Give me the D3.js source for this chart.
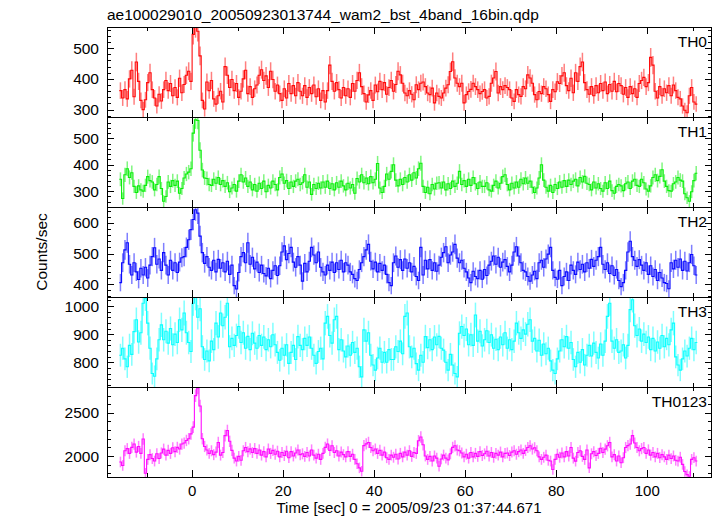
<!DOCTYPE html>
<html><head><meta charset="utf-8">
<script src="https://cdn.jsdelivr.net/npm/d3@7/dist/d3.min.js"></script>
<style>html,body{margin:0;padding:0;background:#fff;} svg{display:block;font-family:"Liberation Sans",Arial,Helvetica,sans-serif;}</style>
</head><body><svg id="chart" width="717" height="516"></svg>
<script>
const title = "ae100029010_20050923013744_wam2_bst_4band_16bin.qdp";
const xLabel = "Time [sec] 0 = 2005/09/23 01:37:44.671";
const yLabel = "Counts/sec";
const panelNames = ["TH0", "TH1", "TH2", "TH3", "TH0123"];
const binSec = 0.5;          // bin width in seconds
const firstBinStart = -16;   // start time of first bin (s)

const th0 = [
362,338,365,335,400,428,342,455,392,330,
300,332,388,420,365,338,312,350,328,365,
395,362,385,345,372,340,402,355,382,412,
425,392,545,568,555,475,330,302,390,362,
395,335,318,345,360,325,440,412,372,398,
362,385,340,360,400,428,352,375,340,368,
380,412,430,395,410,372,425,398,360,380,
352,330,368,338,385,352,378,345,388,360,
345,378,340,372,352,380,342,368,330,362,
325,362,445,392,360,388,365,338,372,345,
368,340,385,360,395,420,375,352,325,348,
362,330,380,358,392,365,388,350,372,395,
360,382,425,413,386,354,345,362,350,332,
381,365,386,390,375,354,349,370,322,354,
343,338,354,370,381,424,456,403,386,375,
386,322,349,359,366,386,375,365,352,359,
365,338,343,386,403,424,354,375,365,378,
372,365,338,327,365,349,343,375,368,413,
403,386,349,332,359,352,375,368,349,327,
365,358,391,385,410,420,378,362,402,355,
420,392,440,455,388,365,350,375,345,378,
355,385,362,390,352,382,360,392,358,385,
378,350,372,340,375,352,368,340,385,395,
405,375,388,470,445,360,338,375,345,368,
355,378,345,380,362,340,335,312,298,290,
345,372,325,318];

const th1 = [
345,272,362,385,352,370,318,295,320,305,
300,322,355,340,335,305,325,355,310,262,
280,335,318,340,322,338,292,310,350,365,
372,385,520,570,568,455,380,350,348,325,
322,345,330,352,325,340,318,332,298,312,
325,300,338,362,335,350,318,335,305,325,
300,330,310,338,298,322,312,338,325,305,
352,365,330,340,310,335,318,338,345,325,
332,362,315,335,288,325,310,330,312,335,
315,338,310,328,305,332,315,338,320,305,
330,312,325,292,348,335,362,332,350,328,
355,332,345,405,312,295,318,365,345,375,
400,342,320,345,325,352,335,362,342,370,
350,385,406,318,295,315,290,325,308,330,
332,312,335,305,328,310,338,318,330,375,
325,340,318,345,322,352,328,310,335,318,
318,332,305,300,322,338,312,330,355,362,
325,305,330,312,335,315,345,328,350,330,
338,315,295,312,350,400,342,315,300,322,
295,325,310,335,315,340,318,342,325,338,
345,320,352,335,356,330,325,305,335,312,
328,310,300,332,310,338,302,292,318,325,
320,302,328,335,310,338,345,322,318,345,
332,308,300,320,352,362,340,356,381,338,
318,302,300,328,335,352,342,338,290,275,
262,298,340,368];

const th2 = [
405,470,512,535,465,430,470,440,415,452,
430,455,420,462,490,519,465,482,445,503,
462,430,478,445,470,438,472,486,490,520,
545,578,611,643,632,557,503,468,490,455,
445,478,440,481,452,470,440,475,432,462,
395,384,438,490,503,470,535,465,488,450,
472,438,462,435,427,452,418,445,460,428,
460,505,525,480,500,520,472,455,490,462,
410,468,440,475,520,495,470,505,455,440,
430,462,445,472,438,470,448,478,440,470,
462,440,432,418,412,448,470,490,512,530,
475,450,472,440,468,445,462,432,405,395,
470,492,455,480,445,482,452,470,440,458,
425,412,520,430,478,450,480,445,470,442,
462,488,503,522,470,495,505,530,485,470,
478,452,440,420,405,442,425,418,445,416,
448,428,462,475,492,465,488,455,472,480,
458,440,462,505,522,492,470,445,440,425,
410,430,442,418,470,478,455,482,498,520,
445,422,416,445,395,425,440,412,462,445,
432,472,448,465,440,470,452,481,458,478,
490,520,465,448,470,435,460,428,448,412,
392,405,445,505,540,490,478,458,480,462,
445,470,432,460,425,448,412,438,420,405,
402,385,470,450,478,455,482,445,475,443,
470,497,460,430];

const th3 = [
825,850,812,784,860,828,909,951,872,905,
1010,1028,939,850,760,750,812,880,933,880,
910,868,920,862,900,870,951,915,975,905,
870,838,1010,1030,960,990,855,810,840,805,
875,845,939,890,975,930,960,1010,855,885,
860,895,927,870,905,850,892,845,903,868,
850,895,860,890,845,880,855,898,862,835,
807,850,825,862,796,835,860,810,891,860,
845,885,860,890,850,825,796,838,850,812,
939,963,895,868,951,963,845,880,840,819,
858,825,870,835,850,784,748,915,875,905,
825,790,772,815,850,800,835,800,845,810,
810,855,838,875,830,963,975,855,819,850,
795,772,825,800,891,852,880,845,890,862,
892,850,843,800,772,828,790,760,748,903,
927,895,918,862,898,860,968,875,910,858,
880,912,870,898,850,882,845,890,862,905,
850,880,845,875,939,905,885,915,900,935,
951,875,885,840,878,825,865,830,850,805,
772,760,812,840,880,855,891,850,870,810,
784,835,800,845,790,825,860,822,868,835,
815,865,825,875,963,1010,875,850,880,835,
840,862,815,860,987,1022,930,895,918,875,
900,870,890,845,885,840,872,850,895,855,
885,862,915,939,819,790,772,812,840,822,
850,885,845,870];

const th0123 = [
1930,1890,2060,2085,2030,2100,2138,2045,2110,2030,
2197,1800,1960,2015,1970,1941,2025,1970,2035,2079,
2010,2065,2030,2095,2050,2100,2080,2138,2150,2180,
2200,2256,2335,2700,2790,2580,2200,2110,2070,2030,
2060,2015,2045,2157,2010,2040,2236,2295,2170,2065,
1975,1941,1995,1950,2060,2098,2050,2082,2040,2085,
2030,2070,2010,2050,1990,2080,2030,2065,2020,2055,
1990,2040,2005,2055,1980,2050,2000,2035,2070,2015,
2025,1995,2040,2000,2070,2010,1975,2020,1960,2030,
2100,2138,2065,2118,2040,2060,2000,2045,2015,1990,
2050,1995,2020,1960,1910,1862,1823,2120,2140,2157,
2098,2060,2080,2030,2065,2010,2045,1980,1960,2010,
1985,2020,1965,2030,1990,2045,2010,2060,1995,2040,
2030,2177,2220,2130,2000,1960,1995,1941,2000,1975,
1880,1965,2010,1975,1955,2025,2100,2118,2070,2060,
2035,1990,2020,1975,2040,1990,2030,1995,2050,2005,
2025,2055,2000,2040,1985,2030,2010,2045,1990,2030,
2035,2005,2045,2060,2020,2050,2070,2030,2065,2098,
2118,2080,2095,2060,1990,1960,1985,2010,1950,1941,
1843,1960,2020,1985,2035,1990,2050,2000,2098,1975,
1940,2040,2060,1995,1960,2070,1862,2025,2050,2005,
2030,2090,2040,2079,2118,2157,1990,2015,1941,2000,
1921,1980,2098,2120,2138,2236,2150,2098,2060,2085,
2098,2030,2070,2010,2040,1990,2030,1980,2015,1990,
1960,2010,1970,2000,1950,1941,1985,1902,1820,1783,
1764,1960,1980,1941];

const seriesValues = [th0, th1, th2, th3, th0123];
const seriesColors = ["#ff0000", "#00ee00", "#0000ff", "#00ffff", "#ff00ff"];

const xTickLabels = [0, 20, 40, 60, 80, 100];
const xMinorStep = 10;
const yTickLabels = [[300, 400, 500], [300, 400, 500], [400, 500, 600], [800, 900, 1000], [2000, 2500]];
const yMinorSteps = [20, 20, 20, 20, 100];
const yDomains = [[276, 569], [240, 581], [358, 652], [712, 1032], [1756, 2800]];
const xDomain = [-18.7, 114];

// layout
const L = 107, R = 711, T = 27, PH = 90, FS = 15;
const svg = d3.select("#chart");
const x = d3.scaleLinear().domain(xDomain).range([L, R]);
const px = v => Math.round(v) + 0.5;

svg.append("text").attr("x", L).attr("y", 20).attr("font-size", 15.5).text(title);

seriesValues.forEach((vals, k) => {
  const y0 = T + k * PH, y1 = y0 + PH;
  const y = d3.scaleLinear().domain(yDomains[k]).range([y1, y0]);
  const cid = "clip" + k;
  svg.append("clipPath").attr("id", cid).append("rect")
    .attr("x", L).attr("y", y0).attr("width", R - L).attr("height", PH);
  const g = svg.append("g").attr("clip-path", `url(#${cid})`);
  const bins = vals.map((v, i) => ({ t0: firstBinStart + i * binSec, v: v, e: Math.sqrt(v / binSec) }));
  const col = seriesColors[k];
  g.selectAll("line.err").data(bins).join("line").attr("class", "err")
    .attr("x1", d => x(d.t0 + binSec / 2)).attr("x2", d => x(d.t0 + binSec / 2))
    .attr("y1", d => y(d.v - d.e)).attr("y2", d => y(d.v + d.e))
    .attr("stroke", col).attr("stroke-width", 1.5).attr("stroke-opacity", 0.5);
  const pts = [];
  bins.forEach(d => { pts.push([d.t0, d.v]); pts.push([d.t0 + binSec, d.v]); });
  g.append("path").attr("d", d3.line().x(d => x(d[0])).y(d => y(d[1]))(pts))
    .attr("fill", "none").attr("stroke", col).attr("stroke-width", 1.1).attr("stroke-opacity", 0.95);

  // frame
  svg.append("rect").attr("x", L + 0.5).attr("y", y0 + 0.5).attr("width", R - L).attr("height", PH)
    .attr("fill", "none").attr("stroke", "#000").attr("stroke-width", 1);

  const tk = svg.append("g").attr("stroke", "#000").attr("stroke-width", 1);
  const xt = d3.range(-10, xDomain[1], xMinorStep);
  xt.forEach(t => {
    const len = (t % 20 === 0) ? 7 : 4;
    const xx = px(x(t));
    tk.append("line").attr("x1", xx).attr("x2", xx).attr("y1", y1).attr("y2", y1 - len);
    tk.append("line").attr("x1", xx).attr("x2", xx).attr("y1", y0).attr("y2", y0 + len);
  });
  const st = yMinorSteps[k];
  const yt = d3.range(Math.ceil(yDomains[k][0] / st) * st, yDomains[k][1], st);
  yt.forEach(v => {
    const len = yTickLabels[k].includes(v) ? 7 : 4;
    const yy = px(y(v));
    tk.append("line").attr("x1", L).attr("x2", L + len).attr("y1", yy).attr("y2", yy);
    tk.append("line").attr("x1", R + 1).attr("x2", R + 1 - len).attr("y1", yy).attr("y2", yy);
  });
  yTickLabels[k].forEach(v => {
    svg.append("text").attr("x", 99).attr("y", y(v)).attr("dy", "0.36em")
      .attr("text-anchor", "end").attr("font-size", 15.5).text(v);
  });
  svg.append("text").attr("x", 707).attr("y", y0 + 20).attr("text-anchor", "end")
    .attr("font-size", 15.5).text(panelNames[k]);
});

const bottom = T + 5 * PH;
xTickLabels.forEach(t => {
  svg.append("text").attr("x", x(t)).attr("y", bottom + 19).attr("text-anchor", "middle")
    .attr("font-size", FS).text(t);
});
svg.append("text").attr("x", (L + R) / 2).attr("y", bottom + 36).attr("text-anchor", "middle")
  .attr("font-size", FS).text(xLabel);
svg.append("text").attr("transform", `translate(47,${T + 2.5 * PH}) rotate(-90)`)
  .attr("text-anchor", "middle").attr("font-size", 15.5).text(yLabel);
</script></body></html>
